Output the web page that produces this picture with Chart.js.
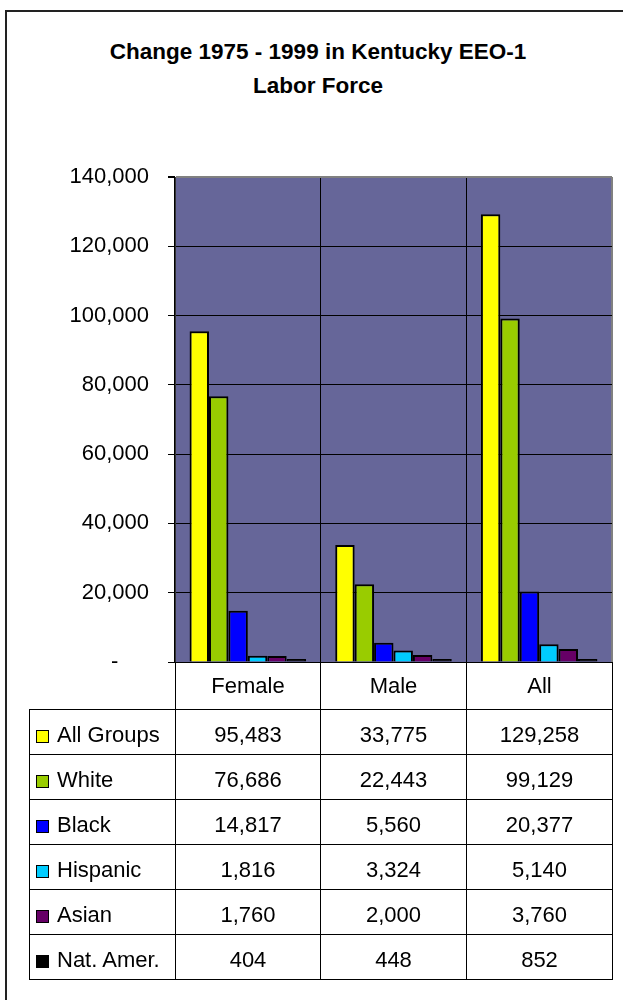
<!DOCTYPE html>
<html>
<head>
<meta charset="utf-8">
<script src="https://cdn.jsdelivr.net/npm/chart.js"></script>
<style>
  body { margin: 0; background: #fff; font-family: "Liberation Sans", Arial, sans-serif; color: #000; }
  #wrap { position: relative; width: 623px; height: 1000px; overflow: hidden; }
  #frame { position: absolute; left: 5px; top: 10px; width: 700px; height: 1100px; border-left: 2px solid #222; border-top: 2px solid #222; }
  #title { position: absolute; left: 0; top: 35px; width: 636px; text-align: center; font-weight: bold; font-size: 22.5px; line-height: 34px; }
  #chart { position: absolute; left: 0; top: 0; }
  #tbl { position: absolute; left: 29px; top: 662px; border-collapse: collapse; table-layout: fixed; width: 583px; font-size: 22px; }
  #tbl td { border: 1px solid #000; text-align: center; padding: 5px 0 0 0; height: 39px; white-space: nowrap; }
  #tbl tr.head td { border-top: none; height: 47px; padding-top: 0; }
  #tbl tr.head td.blank { border: none; border-bottom: 1px solid #000; }
  #tbl td.lab { text-align: left; padding-left: 6px; }
  .key { display: inline-block; width: 11px; height: 11px; border: 1px solid #000; margin-right: 8px; vertical-align: -1px; }
</style>
</head>
<body>
<div id="wrap">
  <div id="frame"></div>
  <div id="title">Change 1975 - 1999 in Kentucky EEO-1<br>Labor Force</div>
  <canvas id="chart" width="623" height="700"></canvas>
  <table id="tbl"></table>
</div>
<script>
const categories = ['Female', 'Male', 'All'];
const seriesNames = ['All Groups', 'White', 'Black', 'Hispanic', 'Asian', 'Nat. Amer.'];
const allGroups = [95483, 33775, 129258];
const white = [76686, 22443, 99129];
const black = [14817, 5560, 20377];
const hispanic = [1816, 3324, 5140];
const asian = [1760, 2000, 3760];
const natAmer = [404, 448, 852];
const seriesColors = ['#ffff00', '#99cc00', '#0000ff', '#00ccff', '#660066', '#000000'];
const yMin = 0, yMax = 140000, yStep = 20000;

const seriesData = [allGroups, white, black, hispanic, asian, natAmer];

// fond du graphique
const plotBg = {
  id: 'plotBg',
  beforeDraw(chart) {
    const { ctx, chartArea: a } = chart;
    ctx.save();
    ctx.fillStyle = '#666699';
    ctx.fillRect(a.left, a.top, a.width, a.height);
    ctx.restore();
  }
};

new Chart(document.getElementById('chart'), {
  type: 'bar',
  data: {
    labels: categories,
    datasets: seriesNames.map((name, i) => ({
      label: name,
      data: seriesData[i],
      backgroundColor: seriesColors[i],
      borderColor: '#000',
      borderWidth: 2,
      minBarLength: 3,
      categoryPercentage: 0.8,
      barPercentage: 1.0
    }))
  },
  options: {
    responsive: false,
    animation: false,
    layout: { padding: { top: 177, right: 11, bottom: 38, left: 0 } },
    plugins: { legend: { display: false }, tooltip: { enabled: false } },
    scales: {
      x: {
        afterFit: s => { s.height = 0; },
        ticks: { display: false },
        grid: {
          color: c => (c.tick ? '#000' : '#808080'),
          lineWidth: c => (c.tick ? 1 : 2),
          drawTicks: false
        },
        border: { color: '#000', width: 1 }
      },
      y: {
        min: yMin,
        max: yMax,
        afterFit: s => { s.width = 175; },
        ticks: {
          stepSize: yStep,
          padding: 19,
          color: '#000',
          font: { family: '"Liberation Sans", Arial, sans-serif', size: 22 },
          callback: v => (v === 0 ? '-\u2007\u2007 ' : v.toLocaleString('en-US'))
        },
        grid: {
          color: c => (c.tick && c.tick.value === yMax ? '#808080' : '#000'),
          lineWidth: c => (c.tick && c.tick.value === yMax ? 2 : 1),
          tickColor: '#000',
          tickLength: 7
        },
        border: { color: '#333', width: 1 }
      }
    }
  },
  plugins: [plotBg]
});

// tableau de données
let html = '<colgroup><col style="width:146px"><col style="width:145px"><col style="width:146px"><col style="width:146px"></colgroup>';
html += '<tr class="head"><td class="blank"></td>' + categories.map(c => '<td>' + c + '</td>').join('') + '</tr>';
seriesNames.forEach((name, i) => {
  html += '<tr><td class="lab"><span class="key" style="background:' + seriesColors[i] + '"></span>' + name + '</td>' +
    seriesData[i].map(v => '<td>' + v.toLocaleString('en-US') + '</td>').join('') + '</tr>';
});
document.getElementById('tbl').innerHTML = html;
</script>
</body>
</html>
